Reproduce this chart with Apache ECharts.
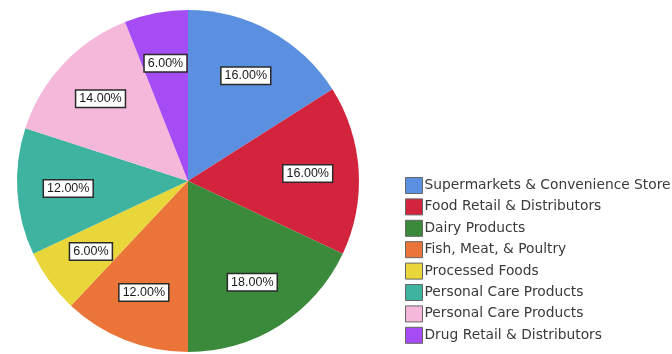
<!DOCTYPE html>
<html><head><meta charset="utf-8">
<script src="https://cdn.jsdelivr.net/npm/echarts@6/dist/echarts.min.js"></script>
<style>html,body{margin:0;padding:0;background:#fff}#c{width:672px;height:354px}</style>
</head><body><div id="c"></div>
<script>
const categories = ["Supermarkets & Convenience Store","Food Retail & Distributors","Dairy Products","Fish, Meat, & Poultry","Processed Foods","Personal Care Products","Personal Care Products","Drug Retail & Distributors"];
const values = [16, 16, 18, 12, 6, 12, 14, 6];
const colors = ["#5b8fe0","#d2243c","#3b8a3b","#eb7538","#e8d63a","#3db3a0","#f5b8da","#a64cf4"];

const data = categories.map((n, i) => ({ name: n + (i === 6 ? " " : ""), value: values[i], itemStyle: { color: colors[i] } }));
const legendData = data.map(d => d.name);

const chart = echarts.init(document.getElementById('c'), null, { renderer: 'canvas' });
chart.setOption({
  animation: false,
  legend: {
    orient: 'vertical', left: 400, top: 172, height: 200,
    itemWidth: 17, itemHeight: 16, itemGap: 4.4,
    icon: 'rect',
    data: legendData,
    textStyle: { fontFamily: 'DejaVu Sans', fontSize: 13.8, color: '#3a3a3a', lineHeight: 14, padding: [0, 0, 0, -3] },
    itemStyle: { borderColor: '#666', borderWidth: 1 }
  },
  series: [
    {
      type: 'pie', center: [188, 181], radius: [0, 171], startAngle: 90, clockwise: true,
      data: data, label: { show: false }, labelLine: { show: false },
      itemStyle: { borderWidth: 0 }, emphasis: { disabled: true }
    },
    {
      type: 'pie', center: [188, 181], radius: [0, 234], startAngle: 90, clockwise: true,
      silent: true, legendHoverLink: false,
      data: data.map(d => ({ name: d.name, value: d.value })),
      itemStyle: { color: 'rgba(0,0,0,0)' },
      emphasis: { disabled: true },
      label: {
        show: true, position: 'inside',
        formatter: p => p.value.toFixed(2) + '%',
        fontFamily: 'Liberation Sans', fontSize: 12.5, color: '#1a1a1a',
        backgroundColor: '#fff', borderColor: '#2a2a2a', borderWidth: 1.5, padding: [2, 3, 1, 3]
      },
      labelLine: { show: false }
    }
  ]
});
</script></body></html>
